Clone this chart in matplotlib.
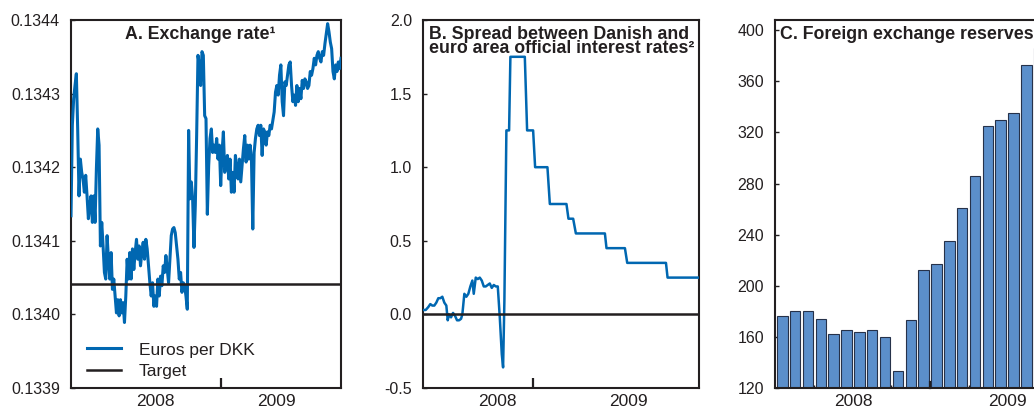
import matplotlib
matplotlib.use("Agg")
import matplotlib.pyplot as plt
import numpy as np

INK = "#231f20"
BLUE = "#0067b1"
BAR = "#5b8fcb"

plt.rcParams.update({
    "font.family": ["Liberation Sans", "DejaVu Sans"],
    "axes.unicode_minus": False,
    "text.color": INK,
    "axes.edgecolor": INK,
    "xtick.color": INK,
    "ytick.color": INK,
    "axes.linewidth": 1.5,
})

# ── Panel A: euros per DKK, daily observations ─────────────────────────────
fx_rate = [
    0.134134, 0.134257, 0.134293, 0.134311, 0.134327, 0.134252, 0.134161, 0.134211,
    0.134193, 0.134184, 0.134166, 0.134189, 0.134161, 0.134130, 0.134148, 0.134161,
    0.134125, 0.134161, 0.134125, 0.134198, 0.134252, 0.134230, 0.134093, 0.134125,
    0.134093, 0.134057, 0.134048, 0.134107, 0.134075, 0.134048, 0.134084, 0.134034,
    0.134048, 0.134025, 0.134002, 0.134020, 0.133998, 0.134020, 0.134002, 0.134016,
    0.133989, 0.134025, 0.134075, 0.134048, 0.134084, 0.134048, 0.134089, 0.134061,
    0.134084, 0.134102, 0.134075, 0.134093, 0.134066, 0.134084, 0.134098, 0.134075,
    0.134102, 0.134089, 0.134066, 0.134043, 0.134025, 0.134043, 0.134011, 0.134025,
    0.134011, 0.134048, 0.134025, 0.134052, 0.134039, 0.134066, 0.134057, 0.134080,
    0.134061, 0.134043, 0.134075, 0.134107, 0.134116, 0.134118, 0.134111, 0.134093,
    0.134075, 0.134048, 0.134057, 0.134030, 0.134043, 0.134039, 0.134025, 0.134007,
    0.134250, 0.134157, 0.134180, 0.134157, 0.134091, 0.134148, 0.134243, 0.134352,
    0.134339, 0.134311, 0.134357, 0.134352, 0.134270, 0.134266, 0.134136, 0.134202,
    0.134239, 0.134252, 0.134220, 0.134230, 0.134220, 0.134239, 0.134211, 0.134230,
    0.134175, 0.134220, 0.134248, 0.134193, 0.134202, 0.134216, 0.134184, 0.134211,
    0.134166, 0.134193, 0.134166, 0.134216, 0.134198, 0.134184, 0.134211, 0.134180,
    0.134202, 0.134225, 0.134243, 0.134207, 0.134230, 0.134211, 0.134230, 0.134211,
    0.134116, 0.134220, 0.134239, 0.134252, 0.134257, 0.134243, 0.134257, 0.134216,
    0.134252, 0.134248, 0.134230, 0.134248, 0.134243, 0.134257, 0.134252, 0.134264,
    0.134275, 0.134302, 0.134311, 0.134298, 0.134325, 0.134339, 0.134289, 0.134270,
    0.134316, 0.134311, 0.134325, 0.134339, 0.134343, 0.134311, 0.134289, 0.134298,
    0.134284, 0.134311, 0.134289, 0.134307, 0.134293, 0.134318, 0.134307, 0.134320,
    0.134316, 0.134307, 0.134311, 0.134330, 0.134325, 0.134334, 0.134348, 0.134339,
    0.134352, 0.134357, 0.134348, 0.134343, 0.134357, 0.134352, 0.134368, 0.134382,
    0.134395, 0.134384, 0.134370, 0.134361, 0.134330, 0.134320, 0.134339, 0.134330,
    0.134343, 0.134334, 0.134348,
]
fx_target = 0.134041
fx_year_break = 112.5          # observation index where 2009 starts
fx_label_pos = [63, 153.75]
year_labels = ["2008", "2009"]

# ── Panel B: spread, percentage points (step changes) ──────────────────────
spread_day = [0, 2.7, 5.3, 7.3, 9.3, 11.3, 13.3, 15.3, 17.3, 19.3, 21.3, 23.3, 24.7,
              26, 28, 30, 32, 34, 36, 38, 39.3, 41.3, 43.3, 45.3, 47.3, 49.3, 50.7,
              52.7, 54.7, 56.7, 58.7, 60.7, 62.7, 64.7, 66.7, 68.7, 70.7, 72.7, 74.7,
              76.7, 78.7, 80, 81.3, 83.3, 86, 87.3, 101.7, 104, 110, 112, 124.3,
              126.7, 143.3, 145.3, 150, 152.7, 181.7, 183.3, 201.7, 204, 242.7,
              244.3, 275.7]
spread_pct = [0.03, 0.03, 0.05, 0.07, 0.06, 0.06, 0.08, 0.11, 0.11, 0.12, 0.08, 0.06,
              -0.04, 0.00, -0.02, 0.01, -0.01, -0.04, -0.04, -0.03, 0.00, 0.14, 0.12,
              0.14, 0.19, 0.23, 0.14, 0.25, 0.24, 0.25, 0.23, 0.19, 0.19, 0.20, 0.21,
              0.18, 0.20, 0.19, 0.19, -0.02, -0.27, -0.36, 0.09, 1.25, 1.25, 1.75,
              1.75, 1.25, 1.25, 1.00, 1.00, 0.75, 0.75, 0.65, 0.65, 0.55, 0.55,
              0.45, 0.45, 0.35, 0.35, 0.25, 0.25]
spread_year_break = 110
spread_label_pos = [74, 205]

# ── Panel C: foreign exchange reserves, monthly, DKK bn ────────────────────
res_month = ["Jan 08", "Feb 08", "Mar 08", "Apr 08", "May 08", "Jun 08", "Jul 08",
             "Aug 08", "Sep 08", "Oct 08", "Nov 08", "Dec 08", "Jan 09", "Feb 09",
             "Mar 09", "Apr 09", "May 09", "Jun 09", "Jul 09", "Aug 09", "Sep 09"]
reserves = [176, 180, 180, 174, 162, 165, 164, 165, 160, 133, 173, 212, 217, 235,
            261, 286, 325, 330, 335, 373, 386]

W, H = 1034, 407
fig = plt.figure(figsize=(W / 100, H / 100), dpi=100)
bot, hgt = 19 / H, 368 / H
axA = fig.add_axes([71 / W, bot, 270 / W, hgt])
axB = fig.add_axes([423 / W, bot, 276 / W, hgt])
axC = fig.add_axes([775 / W, bot, 277 / W, hgt])

TITLE = dict(fontsize=12.8, fontweight="bold", va="baseline")
BASE1 = 1 - 19 / 368     # first title line baseline, axes fraction
BASE2 = 1 - 33 / 368     # second title line baseline


def style_time_axis(ax, label_pos, brk):
    ax.set_xticks(label_pos)
    ax.set_xticklabels(year_labels)
    ax.set_xticks([brk], minor=True)
    ax.tick_params(axis="x", which="major", length=0, pad=4, labelsize=12.5)
    ax.tick_params(axis="x", which="minor", direction="in", length=7, width=1.6)
    ax.tick_params(axis="y", direction="in", length=3, width=1.0, pad=8, labelsize=11.5)


# A
x_fx = np.arange(len(fx_rate))
axA.plot(x_fx, fx_rate, color=BLUE, lw=2.2, label="Euros per DKK", zorder=3)
axA.axhline(fx_target, color=INK, lw=1.8, label="Target", zorder=4)
axA.set_xlim(0, len(fx_rate) - 1)
axA.set_ylim(0.1339, 0.1344)
axA.set_yticks(np.arange(0.1339, 0.13445, 0.0001))
axA.yaxis.set_major_formatter(matplotlib.ticker.FormatStrFormatter("%.4f"))
style_time_axis(axA, fx_label_pos, fx_year_break)
axA.text(0.48, BASE1, "A. Exchange rate\u00b9", transform=axA.transAxes,
         ha="center", **TITLE)
axA.legend(loc="lower left", bbox_to_anchor=(0.026, 0.0), borderaxespad=0.1,
           frameon=False, fontsize=12.5, handlelength=2.0, handletextpad=1.0,
           labelspacing=0.38)

# B
axB.plot(spread_day, spread_pct, color=BLUE, lw=1.8, zorder=3)
axB.axhline(0, color=INK, lw=1.8, zorder=4)
axB.set_xlim(0, spread_day[-1])
axB.set_ylim(-0.5, 2.0)
axB.set_yticks(np.arange(-0.5, 2.01, 0.5))
axB.yaxis.set_major_formatter(matplotlib.ticker.FormatStrFormatter("%.1f"))
style_time_axis(axB, spread_label_pos, spread_year_break)
axB.text(0.022, BASE1, "B. Spread between Danish and", transform=axB.transAxes,
         ha="left", **TITLE)
axB.text(0.022, BASE2, "euro area official interest rates\u00b2", transform=axB.transAxes,
         ha="left", **TITLE)

# C
x_res = np.arange(len(reserves))
axC.bar(x_res, reserves, width=0.82, color=BAR, edgecolor="#26324a", lw=0.8, zorder=2)
axC.set_xlim(-0.565, len(reserves) - 0.01)
axC.set_ylim(120, 408)
axC.set_yticks(np.arange(120, 401, 40))
n_2008 = res_month.index("Jan 09")
axC.set_xticks([n_2008 / 2 - 0.5, n_2008 + n_2008 / 2 - 0.5])
axC.set_xticklabels(year_labels)
axC.set_xticks([q - 0.5 for q in range(3, len(reserves), 3) if q != n_2008], minor=True)
axC.tick_params(axis="x", which="major", length=0, pad=4, labelsize=12.5)
axC.tick_params(axis="x", which="minor", direction="in", length=2.5, width=1.0)
axC.tick_params(axis="y", direction="in", length=3, width=1.0, pad=8, labelsize=11.5)
axC.plot([n_2008 - 0.5] * 2, [0, 0.017], transform=axC.get_xaxis_transform(),
         color=INK, lw=1.6, zorder=5, clip_on=False)
axC.text(0.018, BASE1, "C. Foreign exchange reserves", transform=axC.transAxes,
         ha="left", **TITLE)

fig.savefig("out.png", dpi=100)
